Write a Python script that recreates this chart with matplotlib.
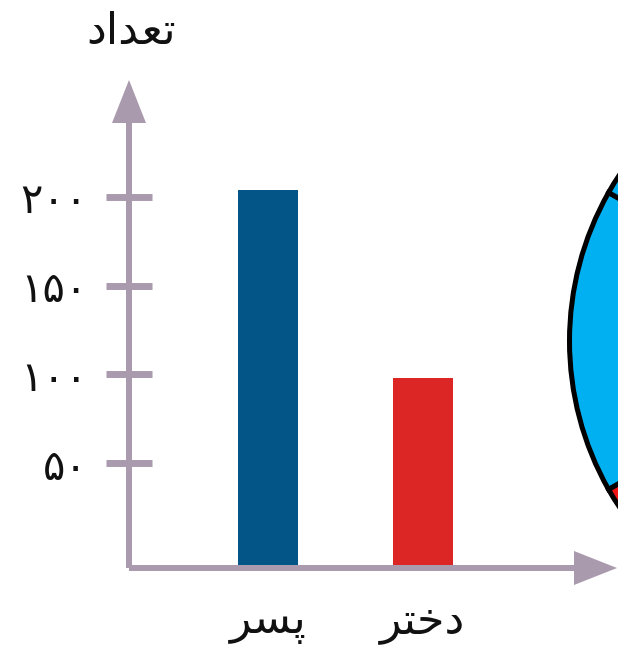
import numpy as np
import matplotlib
matplotlib.use("Agg")
import matplotlib.pyplot as plt
from matplotlib.patches import FancyArrow

# Persian strings written in visual order with presentation forms (matplotlib does no shaping)
y_title = "\uFEA9\uFE8D\uFEAA\uFECC\uFE97"                 # تعداد
categories = ["\uFEAE\uFEB4\uFB58", "\uFEAE\uFE98\uFEA7\uFEA9"]  # پسر , دختر
counts = [204, 98]
bar_colors = ["#045587", "#dc2626"]
tick_values = [50, 100, 150, 200]
tick_labels = ["۵۰", "۱۰۰", "۱۵۰", "۲۰۰"]

# pie cut off at the right edge; only two wedge boundaries are visible (shares in degrees)
pie_shares = [59, 60, 181, 60]
pie_colors = ["#00b0f0", "#f01414", "#00b0f0", "#00b0f0"]

AX = "#a99aae"
TXT = "#111111"
plt.rcParams.update({"font.family": ["DejaVu Sans"], "figure.facecolor": "white"})

W, H = 618, 645
fig = plt.figure(figsize=(W / 100, H / 100), dpi=100)

# pie first so the bar chart sits on top
cx, cy, r = 871, 341, 301.5
pax = fig.add_axes([(cx - r) / W, (H - cy - r) / H, 2 * r / W, 2 * r / H])
pax.pie(pie_shares, colors=pie_colors, startangle=150.5, counterclock=True,
        wedgeprops=dict(edgecolor="black", linewidth=3.6))
pax.set_xlim(-1, 1); pax.set_ylim(-1, 1)
pax.axis("off")

# main bar chart: axes spans from axis origin to the arrow tips (488 px each way)
x0, y0, x1, y1 = 129, 568, 617, 80
L = float(x1 - x0)
ax = fig.add_axes([x0 / W, (H - y0) / H, (x1 - x0) / W, (y0 - y1) / H])
ax.patch.set_alpha(0)
ylo, yhi = -9.1, 265.8
ax.set_ylim(ylo, yhi)
ax.set_xlim(-0.897, 2.252)
xs = np.arange(len(counts))
ax.bar(xs, [c - ylo for c in counts], bottom=ylo, width=0.385, color=bar_colors, zorder=2)

for s in ax.spines.values():
    s.set_visible(False)
ax.set_xticks([])
ax.set_yticks(tick_values)
ax.set_yticklabels(tick_labels, fontsize=30, color=TXT)
ax.tick_params(axis="y", direction="inout", length=33, width=5, color=AX, pad=13)

# arrow axes, sharp heads
for dx, dy in [(0, 1), (1, 0)]:
    ax.add_patch(FancyArrow(0, 0, dx, dy, width=6 / L, head_width=34 / L, head_length=43 / L,
                            length_includes_head=True, transform=ax.transAxes, clip_on=False,
                            lw=0, color=AX, zorder=3))

for x, lab in zip(xs, categories):
    ax.text(x, -54 / L, lab, transform=ax.get_xaxis_transform(), ha="center", va="center",
            fontsize=32, color=TXT)
ax.text(0.004, 1 + 49 / L, y_title, transform=ax.transAxes, ha="center", va="center",
        fontsize=32, color=TXT)

fig.savefig("out.png", dpi=100)
